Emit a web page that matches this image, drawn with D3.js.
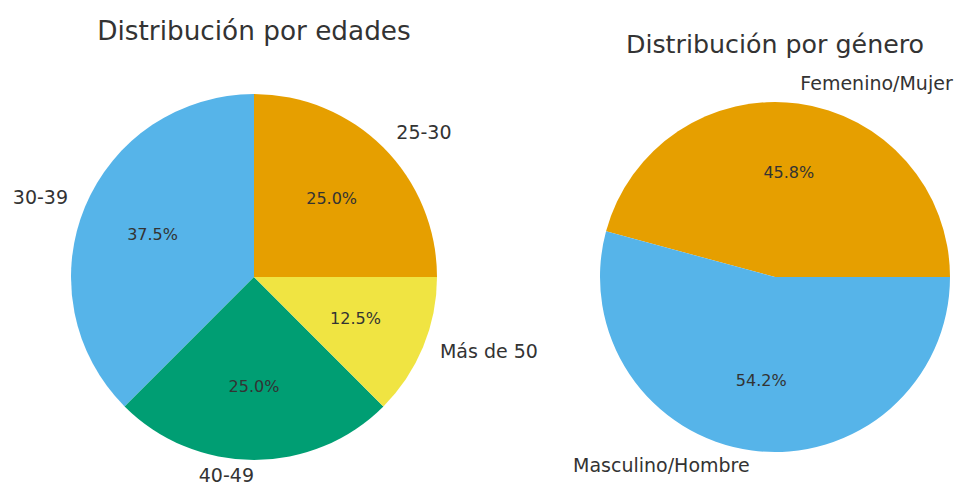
<!DOCTYPE html>
<html>
<head>
<meta charset="utf-8">
<script src="https://cdn.jsdelivr.net/npm/d3@7"></script>
<style>
  body { margin: 0; background: #fff; }
  svg { display: block; font-family: "DejaVu Sans", sans-serif; }
</style>
</head>
<body>
<svg width="955" height="485"></svg>
<script>
// age distribution (matplotlib order, counterclockwise from 12 o'clock)
var ageLabels = ["30-39", "40-49", "Más de 50", "25-30"];
var ageValues = [37.5, 25.0, 12.5, 25.0];
var ageColors = ["#56B4E9", "#009E73", "#F0E442", "#E69F00"];

// gender distribution (counterclockwise from 3 o'clock)
var genderLabels = ["Femenino/Mujer", "Masculino/Hombre"];
var genderValues = [45.8, 54.2];
var genderColors = ["#E69F00", "#56B4E9"];

var svg = d3.select("svg");
var textColor = "#333333";

function drawPie(opts) {
    var g = svg.append("g")
        .attr("transform", "translate(" + opts.cx + "," + opts.cy + ")");

    // matplotlib start angle -> d3 angle, drawn counterclockwise
    var a0 = Math.PI / 2 - opts.startDeg * Math.PI / 180;
    var pie = d3.pie().sort(null)
        .startAngle(a0)
        .endAngle(a0 - 2 * Math.PI);
    var arcs = pie(opts.values);
    var total = d3.sum(opts.values);

    var arc = d3.arc().innerRadius(0).outerRadius(opts.r);

    g.selectAll("path")
        .data(arcs)
        .enter().append("path")
        .attr("d", arc)
        .attr("fill", function (d, i) { return opts.colors[i]; });

    // outer labels at 1.1 r
    g.selectAll("text.lbl")
        .data(arcs)
        .enter().append("text")
        .attr("class", "lbl")
        .attr("x", function (d) { return 1.1 * opts.r * Math.sin((d.startAngle + d.endAngle) / 2); })
        .attr("y", function (d) { return -1.1 * opts.r * Math.cos((d.startAngle + d.endAngle) / 2); })
        .attr("dy", "0.22em")
        .attr("text-anchor", function (d) {
            return Math.sin((d.startAngle + d.endAngle) / 2) > 0 ? "start" : "end";
        })
        .attr("font-size", 19)
        .attr("fill", textColor)
        .text(function (d, i) { return opts.labels[i]; });

    // percentages at 0.6 r
    g.selectAll("text.pct")
        .data(arcs)
        .enter().append("text")
        .attr("class", "pct")
        .attr("x", function (d) { return 0.6 * opts.r * Math.sin((d.startAngle + d.endAngle) / 2); })
        .attr("y", function (d) { return -0.6 * opts.r * Math.cos((d.startAngle + d.endAngle) / 2); })
        .attr("dy", "0.3em")
        .attr("text-anchor", "middle")
        .attr("font-size", 16)
        .attr("fill", textColor)
        .text(function (d) { return (d.value / total * 100).toFixed(1) + "%"; });

    svg.append("text")
        .attr("x", opts.cx)
        .attr("y", opts.titleY)
        .attr("text-anchor", "middle")
        .attr("font-size", opts.titleSize)
        .attr("fill", textColor)
        .text(opts.title);
}

drawPie({
    cx: 254, cy: 277, r: 183, startDeg: 90,
    values: ageValues, labels: ageLabels, colors: ageColors,
    title: "Distribución por edades", titleY: 40, titleSize: 26.3
});

drawPie({
    cx: 775, cy: 277, r: 175, startDeg: 0,
    values: genderValues, labels: genderLabels, colors: genderColors,
    title: "Distribución por género", titleY: 53, titleSize: 25.3
});
</script>
</body>
</html>
